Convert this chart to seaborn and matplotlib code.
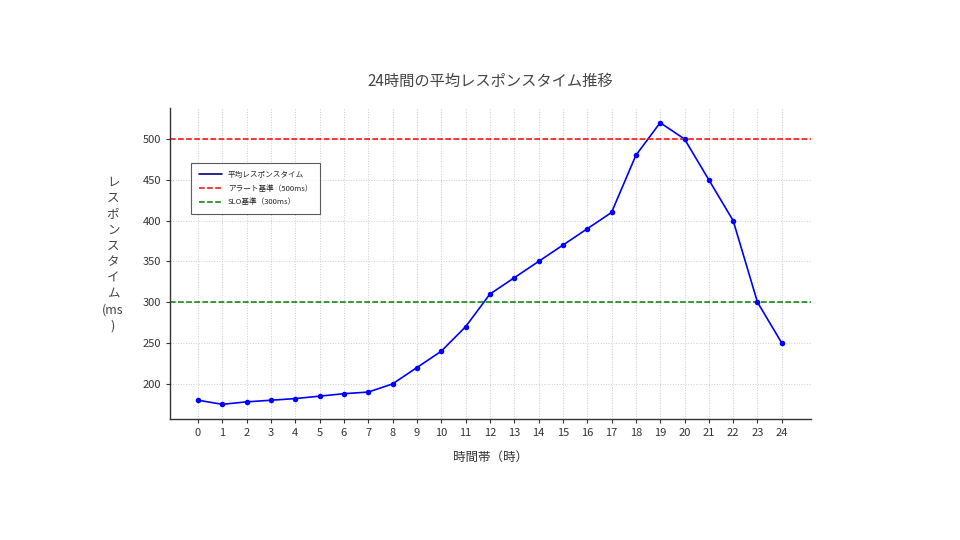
import matplotlib
matplotlib.use('Agg')
import matplotlib.pyplot as plt
import seaborn as sns
import pandas as pd

hours = list(range(25))
response_ms = [180, 175, 178, 180, 182, 185, 188, 190, 200, 220, 240, 270, 310,
               330, 350, 370, 390, 410, 480, 520, 500, 450, 400, 300, 250]
alert_ms = 500
slo_ms = 300

sns.set_theme(style='whitegrid')
plt.rcParams['font.family'] = ['Noto Sans CJK JP', 'DejaVu Sans']

df = pd.DataFrame({'hour': hours, 'ms': response_ms})

fig = plt.figure(figsize=(9.6, 5.4), dpi=100)
ax = fig.add_axes([170 / 960, 1 - 419 / 540, (811 - 170) / 960, (419 - 108) / 540])

sns.lineplot(data=df, x='hour', y='ms', ax=ax, color='blue', linewidth=1.2,
             label='平均レスポンスタイム')
sns.scatterplot(data=df, x='hour', y='ms', ax=ax, color='blue', s=16,
                linewidth=0, legend=False, zorder=3)
ax.axhline(alert_ms, color='red', linestyle='--', linewidth=1.1, label='アラート基準（500ms）')
ax.axhline(slo_ms, color='green', linestyle='--', linewidth=1.1, label='SLO基準（300ms）')

ax.set_xlim(-1.15, 25.2)
ax.set_ylim(157, 538)
ax.set_xticks(hours)
ax.set_yticks([200, 250, 300, 350, 400, 450, 500])
ax.tick_params(labelsize=8, colors='#333333', length=3, direction='out',
               left=True, bottom=True, width=0.8)
ax.grid(True, linestyle=':', color='#cccccc', linewidth=0.7)
for s in ['top', 'right']:
    ax.spines[s].set_visible(False)
for s in ['left', 'bottom']:
    ax.spines[s].set_color('#333333')
    ax.spines[s].set_linewidth(1)

ax.set_title('24時間の平均レスポンスタイム推移', fontsize=11, color='#444444', pad=16)
ax.set_xlabel('時間帯（時）', fontsize=9, color='#333333', labelpad=9)
ax.set_ylabel('')
fig.text(113 / 960, 1 - 254 / 540, 'レ\nス\nポ\nン\nス\nタ\nイ\nム\n(ms\n)',
         fontsize=9, color='#444444', ha='center', va='center', linespacing=1.3)

leg = ax.legend(loc='upper left', bbox_to_anchor=(0.027, 0.835), fontsize=5.5,
                frameon=True, fancybox=False, borderpad=1.0, labelspacing=0.75,
                handlelength=3)
leg.get_lines()[0].set_color('navy')
leg.get_frame().set_edgecolor('#333333')
leg.get_frame().set_linewidth(0.8)

fig.savefig('out.png', dpi=100)
